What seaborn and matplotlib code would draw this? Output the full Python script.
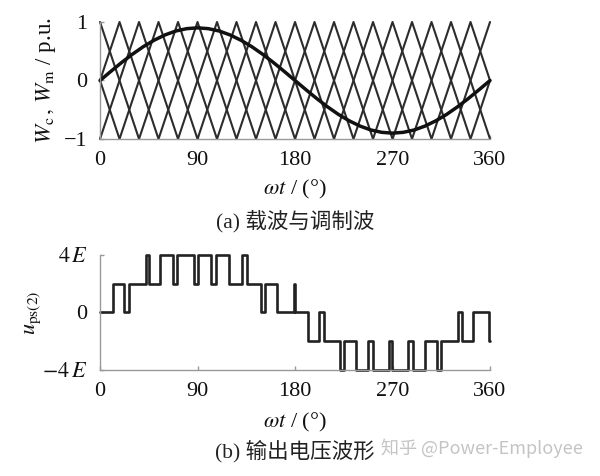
import numpy as np
import pandas as pd
import matplotlib
matplotlib.use("Agg")
import matplotlib.pyplot as plt
import seaborn as sns

# four phase-shifted triangular carriers, vertices every 18 deg
carrier_deg = list(range(0, 361, 18))
carrier_1 = [1, 0, -1, 0, 1, 0, -1, 0, 1, 0, -1, 0, 1, 0, -1, 0, 1, 0, -1, 0, 1]
carrier_2 = [0, 1, 0, -1, 0, 1, 0, -1, 0, 1, 0, -1, 0, 1, 0, -1, 0, 1, 0, -1, 0]
carrier_3 = [-1, 0, 1, 0, -1, 0, 1, 0, -1, 0, 1, 0, -1, 0, 1, 0, -1, 0, 1, 0, -1]
carrier_4 = [0, -1, 0, 1, 0, -1, 0, 1, 0, -1, 0, 1, 0, -1, 0, 1, 0, -1, 0, 1, 0]

# modulation wave (p.u.), read every 10 deg
mod_deg = list(range(0, 361, 10))
mod_val = [0, 0.156, 0.308, 0.45, 0.579, 0.689, 0.779, 0.846, 0.886, 0.9,
           0.886, 0.846, 0.779, 0.689, 0.579, 0.45, 0.308, 0.156, 0,
           -0.156, -0.308, -0.45, -0.579, -0.689, -0.779, -0.846, -0.886, -0.9,
           -0.886, -0.846, -0.779, -0.689, -0.579, -0.45, -0.308, -0.156, 0]

# output voltage: switching angles (deg) and level after each switch (in E)
u_deg = [0, 12.3, 22.4, 26.8, 42.2, 45.5, 55.7, 67.7, 70.8, 87.1,
         90.8, 102.2, 107.1, 119.4, 130.8, 135.4, 148.6, 152.3, 163.1, 178.8,
         179.6, 192.3, 202.5, 207.0, 221.5, 225.5, 236.3, 247.7, 251.7, 267.1,
         269.8, 284.6, 289.2, 300.0, 310.8, 314.5, 330.2, 333.8, 344.6, 359.3,
         360]
u_level = [0, 2, 0, 2, 4, 2, 4, 2, 4, 2,
           4, 2, 4, 2, 4, 2, 0, 2, 0, 2,
           0, -2, 0, -2, -4, -2, -4, -2, -4, -2,
           -4, -2, -4, -2, -4, -2, 0, -2, 0, -2,
           -2]

x_ticks = [0, 90, 180, 270, 360]

sns.set_theme(style="white")
plt.rcParams['font.family'] = ['Liberation Serif', 'Noto Sans CJK SC']
plt.rcParams['mathtext.fontset'] = 'stix'

fig = plt.figure(figsize=(6, 4.76), dpi=100)
ax1 = fig.add_axes([0.1667, 0.708, 0.65, 0.2458])
ax2 = fig.add_axes([0.1667, 0.2227, 0.65, 0.2416])

# (a) carriers and modulation wave
for c in [carrier_1, carrier_2, carrier_3, carrier_4]:
    sns.lineplot(x=carrier_deg, y=c, ax=ax1, color='#2c2c2c', lw=1.5,
                 estimator=None, sort=False, clip_on=False)
sns.lineplot(x=mod_deg, y=mod_val, ax=ax1, color='#111111', lw=2.5,
             estimator=None, sort=False, clip_on=False)
ax1.set_xlim(0, 360)
ax1.set_ylim(-1, 1)
ax1.set_yticks([-1, 0, 1])
ax1.set_yticklabels(['\u22121', '0', '1'])

# (b) output voltage
sns.lineplot(x=u_deg, y=u_level, ax=ax2, color='#222222', lw=1.9,
             estimator=None, sort=False, drawstyle='steps-post', clip_on=False)
ax2.set_xlim(0, 360)
ax2.set_ylim(-4, 4)
ax2.set_yticks([-4, 0, 4])
ax2.set_yticklabels([r'$-4\,E$', '0', r'$4\,E$'])

for ax in [ax1, ax2]:
    ax.set_xticks(x_ticks)
    ax.set_xticklabels([str(t) for t in x_ticks])
    ax.tick_params(axis='both', direction='in', length=3, width=1, color='#999999',
                   labelsize=16, pad=9, bottom=True, left=True, labelcolor='#111111')
    for s in ['top', 'right']:
        ax.spines[s].set_visible(False)
    for s in ['left', 'bottom']:
        ax.spines[s].set_color('#999999')
        ax.spines[s].set_linewidth(1)
    ax.set_xlabel('')
    ax.set_ylabel('')

fig.text(0.0767, 0.83, r'$W_{\rm c}\,,\,W_{\rm m}$ / p.u.', rotation=90,
         ha='center', va='center', fontsize=16.5, color='#111111')
fig.text(0.055, 0.342, r'$u_{\rm ps(2)}$', rotation=90,
         ha='center', va='center', fontsize=16, color='#111111')

fig.text(0.4917, 0.601, r'$\omega t$ / (°)', ha='center', va='center',
         fontsize=16, color='#111111')
fig.text(0.4917, 0.1134, r'$\omega t$ / (°)', ha='center', va='center',
         fontsize=16, color='#111111')

cap_font = ['Liberation Serif', 'Noto Sans CJK SC']
fig.text(0.4917, 0.5357, '(a) 载波与调制波', ha='center', va='center',
         fontsize=15.5, color='#222222', family=cap_font)
fig.text(0.4917, 0.0525, '(b) 输出电压波形', ha='center', va='center',
         fontsize=15.5, color='#222222', family=cap_font)
fig.text(0.803, 0.059, '知乎 @Power-Employee', ha='center', va='center',
         fontsize=13, color='#c4c4c4', family=['Noto Sans CJK SC', 'DejaVu Sans'])

fig.savefig('out.png', dpi=100)
